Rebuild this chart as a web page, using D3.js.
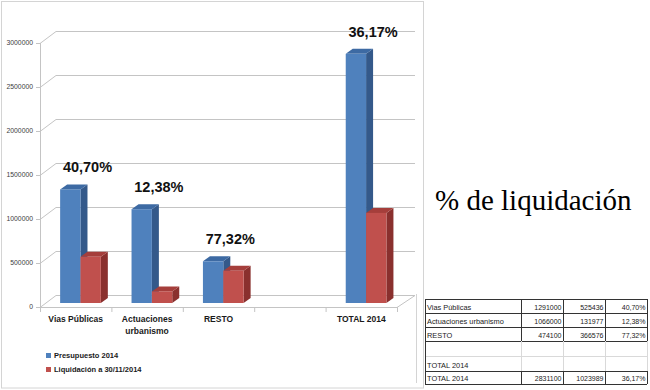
<!DOCTYPE html>
<html>
<head>
<meta charset="utf-8">
<script src="https://cdn.jsdelivr.net/npm/d3@7"></script>
<style>
  body { margin: 0; background: #fff; }
  svg { display: block; }
</style>
</head>
<body>
<div id="chart"></div>
<script>
// data
var categories = ["Vias Públicas", "Actuaciones urbanismo", "RESTO", "", "TOTAL 2014"];
var categoryLines = [["Vias Públicas"], ["Actuaciones", "urbanismo"], ["RESTO"], [], ["TOTAL 2014"]];
var presupuesto = [1291000, 1066000, 474100, null, 2831100];
var liquidacion = [525436, 131977, 366576, null, 1023989];
var pctLabels = ["40,70%", "12,38%", "77,32%", null, "36,17%"];
var yTicks = [0, 500000, 1000000, 1500000, 2000000, 2500000, 3000000];
var seriesNames = ["Presupuesto 2014", "Liquidación a 30/11/2014"];

// table to the right (copy of the excel range)
var tableLabels = ["Vias Públicas", "Actuaciones urbanismo", "RESTO", "", "TOTAL 2014", "TOTAL 2014"];
var tablePres = ["1291000", "1066000", "474100", "", "", "2831100"];
var tableLiq = ["525436", "131977", "366576", "", "", "1023989"];
var tablePct = ["40,70%", "12,38%", "77,32%", "", "", "36,17%"];

var svg = d3.select("#chart").append("svg").attr("width", 650).attr("height", 390);

// outer frame of the chart
svg.append("rect").attr("x", 1.5).attr("y", 1.5).attr("width", 422).attr("height", 386.5)
  .attr("fill", "#fff").attr("stroke", "#d4d4d4");
svg.append("line").attr("x1", 416.5).attr("x2", 416.5).attr("y1", 294).attr("y2", 383)
  .attr("stroke", "#d4d4d4");

// 3d depth of the back wall and of the bars
var dx = 16, dy = -12;
var bdx = 7, bdy = -5;
var offX = 0, offY = -4;

var x = d3.scaleBand().domain(categories).range([40, 397]).paddingInner(0);
var y = d3.scaleLinear().domain([0, 3000000]).range([307, 43]);
var bw = x.bandwidth();

var grid = svg.append("g").attr("stroke", "#c4c4c4").attr("fill", "none");

// back wall gridlines + side wall diagonals
yTicks.forEach(function (t) {
  grid.append("line").attr("x1", 40 + dx).attr("x2", 397 + dx + 2)
    .attr("y1", y(t) + dy + 0.5).attr("y2", y(t) + dy + 0.5);
  grid.append("line").attr("x1", 40).attr("y1", y(t) + 0.5)
    .attr("x2", 40 + dx).attr("y2", y(t) + dy + 0.5);
});

// floor front edge and right corner
grid.append("line").attr("x1", 40).attr("x2", 397).attr("y1", y(0) + 0.5).attr("y2", y(0) + 0.5);
grid.append("line").attr("x1", 397).attr("y1", y(0) + 0.5).attr("x2", 397 + dx + 2).attr("y2", y(0) + dy + 0.5);

// y axis line and ticks
grid.append("line").attr("x1", 40.5).attr("x2", 40.5).attr("y1", y(3000000)).attr("y2", y(0));
yTicks.forEach(function (t) {
  grid.append("line").attr("x1", 36).attr("x2", 40).attr("y1", y(t) + 0.5).attr("y2", y(t) + 0.5);
});
// category ticks
var bounds = categories.map(function (c) { return x(c); }).concat([397]);
bounds.forEach(function (b) {
  grid.append("line").attr("x1", b + 0.5).attr("x2", b + 0.5).attr("y1", y(0)).attr("y2", y(0) + 5);
});

svg.append("g").selectAll("text").data(yTicks).enter().append("text")
  .attr("x", 33).attr("y", function (d) { return y(d) + 2.4; })
  .attr("text-anchor", "end")
  .style("font-family", "Liberation Sans, Arial, sans-serif").style("font-size", "6.8px")
  .attr("fill", "#404040")
  .text(function (d) { return d; });

// bars
var colors = [
  { front: "#4F81BD", side: "#34598A", top: "#3D6AA3" },
  { front: "#C0504D", side: "#8A302E", top: "#A53E3B" }
];

function drawBar(g, x0, w, v, c) {
  var xl = x0 + offX, xr = xl + w;
  var yb = y(0) + offY, yt = y(v) + offY;
  // side
  g.append("path").attr("fill", c.side)
    .attr("d", "M" + xr + "," + yt + "L" + (xr + bdx) + "," + (yt + bdy) +
      "L" + (xr + bdx) + "," + (yb + bdy) + "L" + xr + "," + yb + "Z");
  // top
  g.append("path").attr("fill", c.top)
    .attr("d", "M" + xl + "," + yt + "L" + (xl + bdx) + "," + (yt + bdy) +
      "L" + (xr + bdx) + "," + (yt + bdy) + "L" + xr + "," + yt + "Z");
  // front
  g.append("rect").attr("x", xl).attr("y", yt).attr("width", w).attr("height", yb - yt)
    .attr("fill", c.front);
}

var bars = svg.append("g");
var barW = bw * 0.285;
categories.forEach(function (c, i) {
  if (presupuesto[i] == null) return;
  var x0 = x(c) + bw * 0.282;
  drawBar(bars, x0, barW, presupuesto[i], colors[0]);
  drawBar(bars, x0 + barW, barW, liquidacion[i], colors[1]);
});

// percentage labels above each group
svg.append("g").selectAll("text").data(categories).enter()
  .filter(function (d, i) { return pctLabels[i] != null; })
  .append("text")
  .attr("x", function (d) { return x(d) + bw * 0.282 + barW + 7; })
  .attr("y", function (d) { var i = categories.indexOf(d); return y(presupuesto[i]) - 21; })
  .attr("text-anchor", "middle")
  .style("font-family", "Liberation Sans, Arial, sans-serif").style("font-size", "14.5px")
  .style("font-weight", "bold").attr("fill", "#111")
  .text(function (d) { return pctLabels[categories.indexOf(d)]; });

// category labels
var catG = svg.append("g");
categories.forEach(function (c, i) {
  categoryLines[i].forEach(function (line, j) {
    catG.append("text").attr("x", x(c) + bw / 2).attr("y", 322 + j * 12)
      .attr("text-anchor", "middle")
      .style("font-family", "Liberation Sans, Arial, sans-serif").style("font-size", "8.5px")
      .style("font-weight", "bold").attr("fill", "#1a1a1a")
      .text(line);
  });
});

// legend
var leg = svg.append("g");
seriesNames.forEach(function (s, i) {
  leg.append("rect").attr("x", 46).attr("y", 353 + i * 14).attr("width", 5).attr("height", 5)
    .attr("fill", colors[i].front);
  leg.append("text").attr("x", 54).attr("y", 358 + i * 14)
    .style("font-family", "Liberation Sans, Arial, sans-serif").style("font-size", "7.5px")
    .style("font-weight", "bold").attr("fill", "#1a1a1a")
    .text(s);
});

// title to the right
svg.append("text").attr("x", 435).attr("y", 210)
  .style("font-family", "Liberation Serif, Times New Roman, serif").style("font-size", "29px")
  .attr("fill", "#000").text("% de liquidación");

// data table
var rowEdges = [299, 313, 327, 341, 356, 371, 384];
var colEdges = [425, 521, 563, 605, 647];
var tbl = svg.append("g");
var darkRows = [true, true, true, false, false, true];
tableLabels.forEach(function (lab, r) {
  var y0 = rowEdges[r], y1 = rowEdges[r + 1];
  var stroke = darkRows[r] ? "#333" : "#d9d9d9";
  // inner column lines
  colEdges.slice(1).forEach(function (cx) {
    tbl.append("line").attr("x1", cx + 0.5).attr("x2", cx + 0.5).attr("y1", y0).attr("y2", y1)
      .attr("stroke", stroke);
  });
  tbl.append("line").attr("x1", colEdges[0]).attr("x2", colEdges[4]).attr("y1", y1 + 0.5).attr("y2", y1 + 0.5)
    .attr("stroke", (darkRows[r] || r === 4) ? "#333" : "#d9d9d9");
  var ty = y1 - 3.5;
  var cells = [lab, tablePres[r], tableLiq[r], tablePct[r]];
  cells.forEach(function (t, k) {
    tbl.append("text")
      .attr("x", k === 0 ? colEdges[0] + 2 : colEdges[k + 1] - 1.5)
      .attr("y", ty)
      .attr("text-anchor", k === 0 ? "start" : "end")
      .style("font-family", "Liberation Sans, Arial, sans-serif")
      .style("font-size", k === 0 ? "7.4px" : "7px")
      .attr("fill", "#222")
      .text(t);
  });
});
tbl.append("line").attr("x1", colEdges[0]).attr("x2", colEdges[4]).attr("y1", rowEdges[0] + 0.5).attr("y2", rowEdges[0] + 0.5)
  .attr("stroke", "#333");
tbl.append("line").attr("x1", colEdges[0] + 0.5).attr("x2", colEdges[0] + 0.5).attr("y1", rowEdges[0]).attr("y2", rowEdges[6])
  .attr("stroke", "#333");
</script>
</body>
</html>
